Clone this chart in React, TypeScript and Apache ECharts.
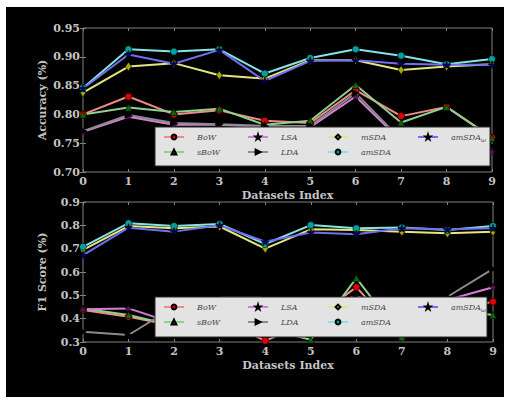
import React, { useEffect, useRef } from "react";
import * as echarts from "echarts";

const xIndex = [0, 1, 2, 3, 4, 5, 6, 7, 8, 9];
const seriesNames = ["BoW", "sBoW", "LSA", "LDA", "mSDA", "amSDA", "amSDAω"];

// Accuracy (top panel)
const accBoW = [0.8, 0.831, 0.8, 0.807, 0.789, 0.785, 0.842, 0.797, 0.813, 0.76];
const accSBoW = [0.8, 0.812, 0.804, 0.81, 0.782, 0.789, 0.851, 0.786, 0.813, 0.759];
const accLSA = [0.77, 0.796, 0.782, 0.782, 0.778, 0.778, 0.831, 0.754, 0.76, 0.735];
const accLDA = [0.771, 0.799, 0.785, 0.783, 0.78, 0.78, 0.837, 0.756, 0.765, 0.745];
const accMSDA = [0.838, 0.883, 0.889, 0.868, 0.862, 0.894, 0.894, 0.877, 0.883, 0.887];
const accAmSDA = [0.846, 0.913, 0.909, 0.913, 0.871, 0.898, 0.913, 0.902, 0.887, 0.896];
const accAmSDAw = [0.845, 0.904, 0.888, 0.912, 0.858, 0.893, 0.894, 0.888, 0.886, 0.886];

// F1 score (bottom panel)
const f1BoW = [0.437, 0.408, 0.37, 0.4, 0.305, 0.39, 0.535, 0.32, 0.43, 0.473];
const f1SBoW = [0.444, 0.416, 0.37, 0.41, 0.36, 0.31, 0.574, 0.32, 0.44, 0.416];
const f1LSA = [0.44, 0.444, 0.38, 0.42, 0.4, 0.39, 0.46, 0.4, 0.48, 0.535];
const f1LDA = [0.344, 0.33, 0.45, 0.49, 0.49, 0.42, 0.5, 0.4, 0.494, 0.613];
const f1MSDA = [0.695, 0.797, 0.787, 0.795, 0.7, 0.783, 0.78, 0.773, 0.766, 0.773];
const f1AmSDA = [0.708, 0.809, 0.797, 0.806, 0.72, 0.801, 0.787, 0.791, 0.78, 0.797];
const f1AmSDAw = [0.672, 0.79, 0.773, 0.8, 0.73, 0.769, 0.762, 0.787, 0.783, 0.787];

const accTicks = { min: 0.7, max: 0.95, interval: 0.05 };
const f1Ticks = { min: 0.3, max: 0.9, interval: 0.1 };

const STAR = "path://M50,0 L61,35 L98,35 L68,57 L79,91 L50,70 L21,91 L32,57 L2,35 L39,35 Z";

const styles: Record<string, any> = {
  BoW: { marker: "#e00000", line: "#f28a8a", symbol: "circle", size: 7, rotate: 0 },
  sBoW: { marker: "#0a6a0a", line: "#8fd08f", symbol: "triangle", size: 7, rotate: 0 },
  LSA: { marker: "#5a1a5a", line: "#d67ed6", symbol: STAR, size: 8, rotate: 0 },
  LDA: { marker: "#000000", line: "#8c8c8c", symbol: "triangle", size: 7, rotate: -90 },
  mSDA: { marker: "#a8a800", line: "#e6e680", symbol: "diamond", size: [6, 9], rotate: 0 },
  amSDA: { marker: "#00a0a0", line: "#86e4e4", symbol: "circle", size: 7, rotate: 0 },
  "amSDAω": { marker: "#00006a", line: "#6f6ff0", symbol: STAR, size: 8, rotate: 0 },
};

const TEXT = "#c4c4c4";
const FRAME = "#808080";
const FONT = "DejaVu Serif";

export default function App() {
  const ref = useRef<HTMLDivElement>(null);
  useEffect(() => {
    if (!ref.current) return;
    const chart = echarts.init(ref.current, undefined, { renderer: "svg" });

    const accData = [accBoW, accSBoW, accLSA, accLDA, accMSDA, accAmSDA, accAmSDAw];
    const f1Data = [f1BoW, f1SBoW, f1LSA, f1LDA, f1MSDA, f1AmSDA, f1AmSDAw];

    const mkSeries = (data: number[][], axisIdx: number) =>
      seriesNames.map((name, k) => {
        const s = styles[name];
        return {
          name,
          type: "line",
          xAxisIndex: axisIdx,
          yAxisIndex: axisIdx,
          data: xIndex.map((x, i) => [x, data[k][i]]),
          symbol: s.symbol,
          symbolSize: s.size,
          symbolRotate: s.rotate,
          showAllSymbol: true,
          lineStyle: { color: s.line, width: 2 },
          itemStyle: { color: s.marker, borderColor: "#000", borderWidth: 0.6 },
          z: 2,
        };
      });

    const grids = [
      { left: 83, top: 28, width: 409, height: 144 },
      { left: 83, top: 202, width: 410, height: 140 },
    ];

    const axisLabel = { color: TEXT, fontFamily: FONT, fontSize: 11, fontWeight: "bold" };
    const nameStyle = { color: TEXT, fontFamily: FONT, fontSize: 11, fontWeight: "bold" };

    const xAxes: any[] = [];
    const yAxes: any[] = [];
    [0, 1].forEach((g) => {
      xAxes.push({
        type: "value",
        gridIndex: g,
        min: 0,
        max: 9,
        interval: 1,
        name: "Datasets Index",
        nameLocation: "middle",
        nameGap: 18,
        nameMoveOverlap: false,
        nameTextStyle: nameStyle,
        axisLine: { show: false },
        axisTick: { inside: true, length: 3, lineStyle: { color: FRAME } },
        axisLabel: { ...axisLabel, margin: 4 },
        splitLine: { show: false },
      });
    });
    const tk = [accTicks, f1Ticks];
    const names = ["Accuracy (%)", "F1 Score (%)"];
    [0, 1].forEach((g) => {
      yAxes.push({
        type: "value",
        gridIndex: g,
        min: tk[g].min,
        max: tk[g].max,
        interval: tk[g].interval,
        name: names[g],
        nameLocation: "middle",
        nameGap: 35,
        nameMoveOverlap: false,
        nameTextStyle: nameStyle,
        axisLine: { show: false },
        axisTick: { inside: true, length: 3, lineStyle: { color: FRAME } },
        axisLabel: {
          ...axisLabel,
          margin: 3,
          formatter: (v: number) => (g === 0 ? v.toFixed(2) : v.toFixed(1)),
        },
        splitLine: { show: false },
      });
    });
    // mirror ticks (top / right)
    [0, 1].forEach((g) => {
      xAxes.push({
        type: "value",
        gridIndex: g,
        position: "top",
        min: 0,
        max: 9,
        interval: 1,
        axisLine: { show: false },
        axisTick: { inside: true, length: 3, lineStyle: { color: FRAME } },
        axisLabel: { show: false },
        splitLine: { show: false },
      });
      yAxes.push({
        type: "value",
        gridIndex: g,
        position: "right",
        min: tk[g].min,
        max: tk[g].max,
        interval: tk[g].interval,
        axisLine: { show: false },
        axisTick: { inside: true, length: 3, lineStyle: { color: FRAME } },
        axisLabel: { show: false },
        splitLine: { show: false },
      });
    });

    const colX = [163, 247, 327, 417];
    const cols = [["BoW", "sBoW"], ["LSA", "LDA"], ["mSDA", "amSDA"], ["amSDAω"]];
    const rowTops = [133, 303];
    const legends: any[] = [];
    rowTops.forEach((top) => {
      cols.forEach((items, c) => {
        legends.push({
          orient: "vertical",
          left: colX[c],
          top,
          padding: 0,
          itemGap: 7,
          itemWidth: 20,
          itemHeight: 6,
          data: items,
          selectedMode: false,
          z: 5,
          textStyle: {
            color: "#4a4a4a",
            fontFamily: FONT,
            fontStyle: "italic",
            fontSize: 8,
            padding: [0, 0, 0, 8],
            rich: {
              sub: { fontSize: 6, verticalAlign: "bottom", padding: [4, 0, 0, 0], color: "#4a4a4a", fontFamily: FONT, fontStyle: "italic" },
            },
          },
          formatter: (n: string) => (n === "amSDAω" ? "amSDA{sub|ω}" : n),
        });
      });
    });

    chart.setOption({
      animation: false,
      backgroundColor: "transparent",
      grid: grids.map((g) => ({ ...g, show: true, borderColor: FRAME, borderWidth: 1, backgroundColor: "transparent" })),
      xAxis: xAxes,
      yAxis: yAxes,
      legend: legends,
      graphic: [
        { type: "rect", z: 3, silent: true, shape: { x: 155, y: 127, width: 335, height: 39 }, style: { fill: "#e3e3e3", stroke: "#2a2a2a", lineWidth: 1 } },
        { type: "rect", z: 3, silent: true, shape: { x: 155, y: 297, width: 332, height: 40 }, style: { fill: "#e3e3e3", stroke: "#2a2a2a", lineWidth: 1 } },
      ],
      series: [...mkSeries(accData, 0), ...mkSeries(f1Data, 1)],
    });
    return () => chart.dispose();
  }, []);

  return (
    <div style={{ position: "fixed", left: 0, top: 0, width: 513, height: 399, background: "#fff" }}>
      <div style={{ position: "absolute", left: 6, top: 7, width: 498, height: 390, background: "#000" }} />
      <div ref={ref} style={{ position: "absolute", left: 0, top: 0, width: 513, height: 399 }} />
    </div>
  );
}
